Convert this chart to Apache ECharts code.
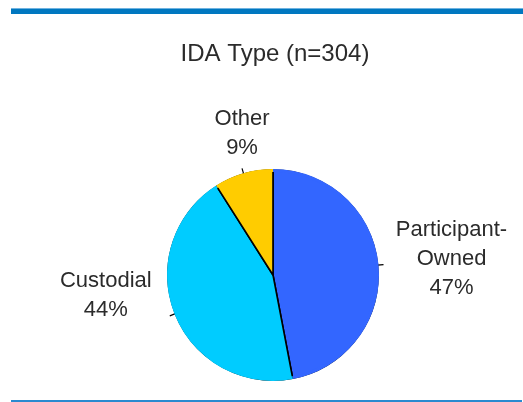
<!DOCTYPE html>
<html>
<head>
<meta charset="utf-8">
<script src="https://cdn.jsdelivr.net/npm/echarts@6/dist/echarts.min.js"></script>
<style>
  html, body { margin: 0; padding: 0; background: #ffffff; }
  #chart { width: 523px; height: 402px; }
</style>
</head>
<body>
<div id="chart"></div>
<script>
// IDA account types
const categories = ['Participant-\nOwned', 'Custodial', 'Other'];
const shares = [47, 44, 9];
const colors = ['#3366FF', '#00CCFF', '#FFCC00'];
const titleText = 'IDA Type (n=304)';

const FONT = '"Liberation Sans", Arial, sans-serif';

const pieData = categories.map((name, i) => ({
  name: name,
  value: shares[i],
  itemStyle: { color: colors[i] }
}));

// label offsets from the end of each label line: [dx, dy, verticalAlign]
const labelPlacement = [
  [68, -6, 'middle'],
  [-64, -20, 'middle'],
  [0, -6, 'bottom']
];

const chart = echarts.init(document.getElementById('chart'), null, { renderer: 'canvas' });

chart.setOption({
  backgroundColor: '#ffffff',
  animation: false,
  title: {
    text: titleText,
    left: 270,
    top: 37,
    textAlign: 'center',
    textStyle: { fontFamily: FONT, fontSize: 24, fontWeight: 'normal', color: '#2b2b2b' }
  },
  graphic: [
    { type: 'rect', shape: { x: 11, y: 8, width: 512, height: 6 }, style: { fill: '#0077C0' } },
    { type: 'rect', shape: { x: 11, y: 8, width: 512, height: 1 }, style: { fill: '#6FB3E0' } },
    { type: 'rect', shape: { x: 11, y: 400, width: 511, height: 2 }, style: { fill: '#2A8AD0' } }
  ],
  series: [
    {
      type: 'pie',
      center: [273, 275],
      radius: [0, 105],
      startAngle: 90,
      clockwise: true,
      data: pieData,
      itemStyle: { borderColor: '#000000', borderWidth: 1.6 },
      emphasis: { disabled: true },
      label: {
        show: true,
        position: 'outside',
        formatter: p => p.name + '\n' + p.value + '%',
        fontFamily: FONT,
        fontSize: 22,
        lineHeight: 29,
        color: '#2b2b2b'
      },
      labelLine: {
        show: true,
        length: 6,
        length2: 0,
        lineStyle: { color: '#000000', width: 1.2 }
      },
      labelLayout: function (params) {
        const pts = params.labelLinePoints;
        if (!pts) return {};
        const end = pts[pts.length - 1];
        const pl = labelPlacement[params.dataIndex];
        return {
          x: end[0] + pl[0],
          y: end[1] + pl[1],
          align: 'center',
          verticalAlign: pl[2],
          labelLinePoints: pts
        };
      },
      z: 2
    },
    {
      // thin rim in the slice colours hides the outer edge of the slice borders
      type: 'pie',
      center: [273, 275],
      radius: [103, 106],
      startAngle: 90,
      clockwise: true,
      silent: true,
      data: pieData,
      label: { show: false },
      labelLine: { show: false },
      emphasis: { disabled: true },
      z: 3
    }
  ]
});
</script>
</body>
</html>
